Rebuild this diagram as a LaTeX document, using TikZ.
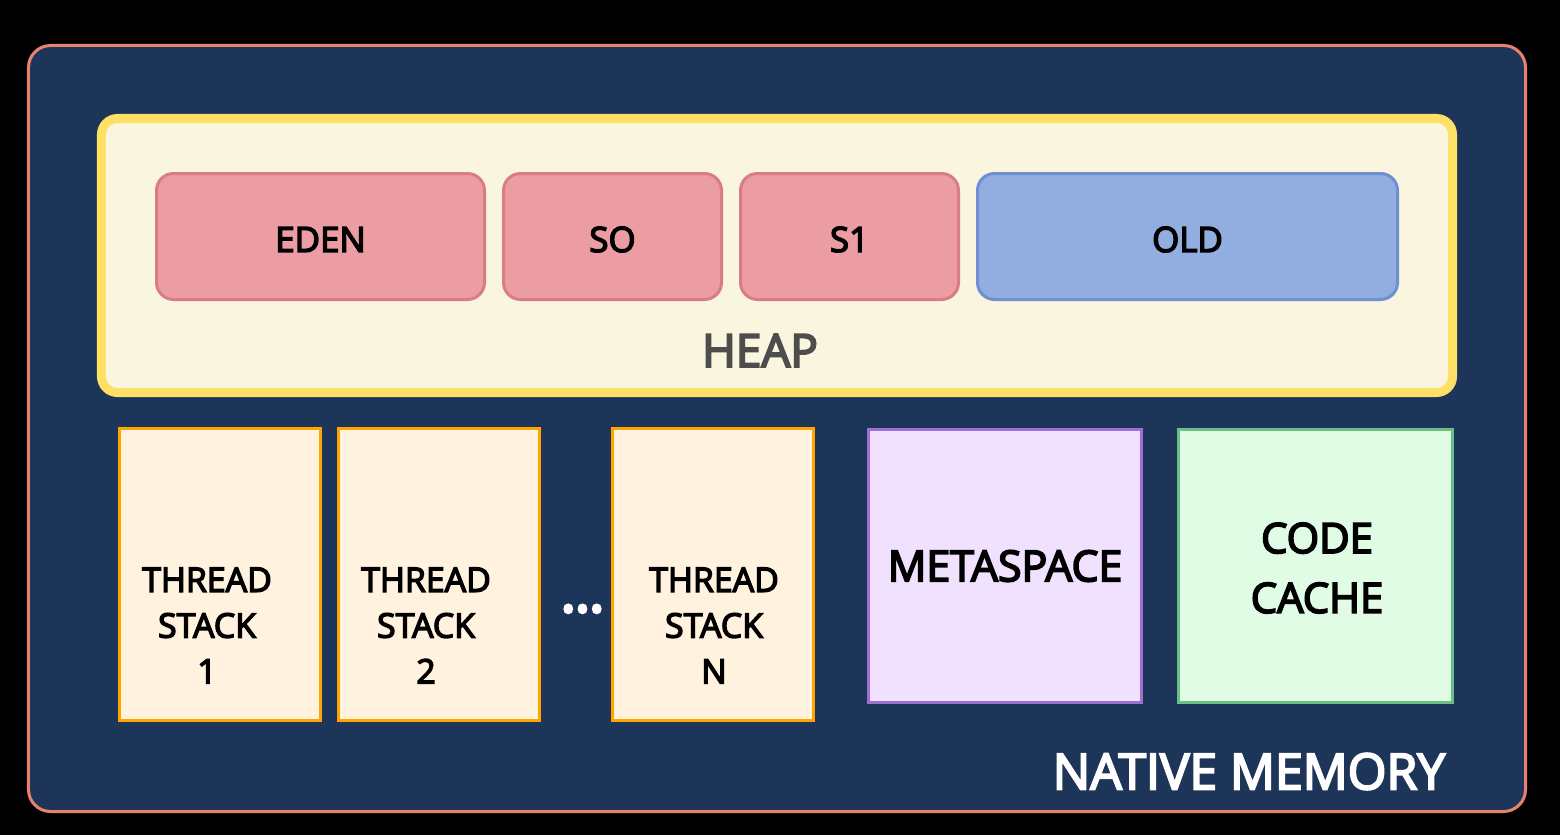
\documentclass[tikz,border=0pt]{standalone}
\usepackage{fontspec}
\setmainfont{Open Sans}[FakeBold=4]
\definecolor{navy}{HTML}{1E355A}
\definecolor{salmon}{HTML}{E8826F}
\definecolor{heapfill}{HTML}{F9F5DE}
\definecolor{heapline}{HTML}{FFE066}
\definecolor{pinkfill}{HTML}{EB9DA3}
\definecolor{pinkline}{HTML}{D87D85}
\definecolor{bluefill}{HTML}{92AEE0}
\definecolor{blueline}{HTML}{6E8FD3}
\definecolor{thrfill}{HTML}{FFF2DF}
\definecolor{thrline}{HTML}{FFA500}
\definecolor{metafill}{HTML}{F0E1FE}
\definecolor{metaline}{HTML}{9D6FD3}
\definecolor{codefill}{HTML}{E0FCE5}
\definecolor{codeline}{HTML}{6ABF85}
\definecolor{heaptext}{HTML}{4D4D4D}
\begin{document}
\begin{tikzpicture}[x=1bp,y=-1bp,
  box/.style={inner sep=0pt, outer sep=0pt},
  region/.style={box, draw=pinkline, fill=pinkfill, line width=3bp, rounded corners=17bp, minimum height=126bp},
  oldregion/.style={box, draw=blueline, fill=bluefill, line width=3bp, rounded corners=17bp, minimum height=126bp},
  stackbox/.style={box, draw=thrline, fill=thrfill, line width=3bp, minimum width=201bp, minimum height=292bp},
  txt/.style={inner sep=0pt, outer sep=0pt, align=center, text=black}
]
\fill[black] (0,0) rectangle (1560,835);
\useasboundingbox (0,0) rectangle (1560,835);

% native memory container
\node[box, draw=salmon, fill=navy, line width=3bp, rounded corners=22bp,
      minimum width=1497bp, minimum height=766bp] (native) at (777,428.5) {};

% heap
\node[box, draw=heapline, fill=heapfill, line width=9bp, rounded corners=16bp,
      minimum width=1351bp, minimum height=274bp] (heap) at (777,255.5) {};

\node[region, minimum width=328bp] (eden) at (320.5,236.5) {};
\node[region, minimum width=218bp] (s0) at (612.5,236.5) {};
\node[region, minimum width=218bp] (s1) at (849.5,236.5) {};
\node[oldregion, minimum width=420bp] (old) at (1187.5,236.5) {};

\node[txt, font=\fontsize{35}{42}\selectfont] (edentxt) at (320.5,239.5) {EDEN};
\node[txt, font=\fontsize{35}{42}\selectfont] (s0txt) at (612.5,239.5) {SO};
\node[txt, font=\fontsize{35}{42}\selectfont] (s1txt) at (849.5,239.5) {S1};
\node[txt, font=\fontsize{35}{42}\selectfont] (oldtxt) at (1187.5,239.5) {OLD};
\node[txt, text=heaptext, font=\fontsize{46}{55}\selectfont] (heaptxt) at (760,350.5) {HEAP};

% thread stacks
\node[stackbox] (ts1) at (219.5,574.5) {};
\node[stackbox] (ts2) at (439,574.5) {};
\node[stackbox] (tsn) at (713,574.5) {};
\node[txt, font=\fontsize{34}{46}\selectfont] (ts1txt) at (207,625.5) {THREAD\\STACK\\1};
\node[txt, font=\fontsize{34}{46}\selectfont] (ts2txt) at (426,625.5) {THREAD\\STACK\\2};
\node[txt, font=\fontsize{34}{46}\selectfont] (tsntxt) at (714,625.5) {THREAD\\STACK\\N};
\node[txt, text=white, font=\fontsize{38}{40}\selectfont] (dots) at (582.5,613.5) {•••};

% metaspace and code cache
\node[box, draw=metaline, fill=metafill, line width=3bp, minimum width=273bp, minimum height=273bp] (meta) at (1005,565.5) {};
\node[box, draw=codeline, fill=codefill, line width=3bp, minimum width=274bp, minimum height=273bp] (code) at (1315.5,565.5) {};
\node[txt, font=\fontsize{43}{52}\selectfont] (metatxt) at (1005,566) {METASPACE};
\node[txt, font=\fontsize{42}{60}\selectfont] (codetxt) at (1317,568) {CODE\\CACHE};

\node[txt, text=white, font=\fontsize{50}{60}\selectfont] (nativetxt) at (1249,771.5) {NATIVE MEMORY};
\end{tikzpicture}
\end{document}
